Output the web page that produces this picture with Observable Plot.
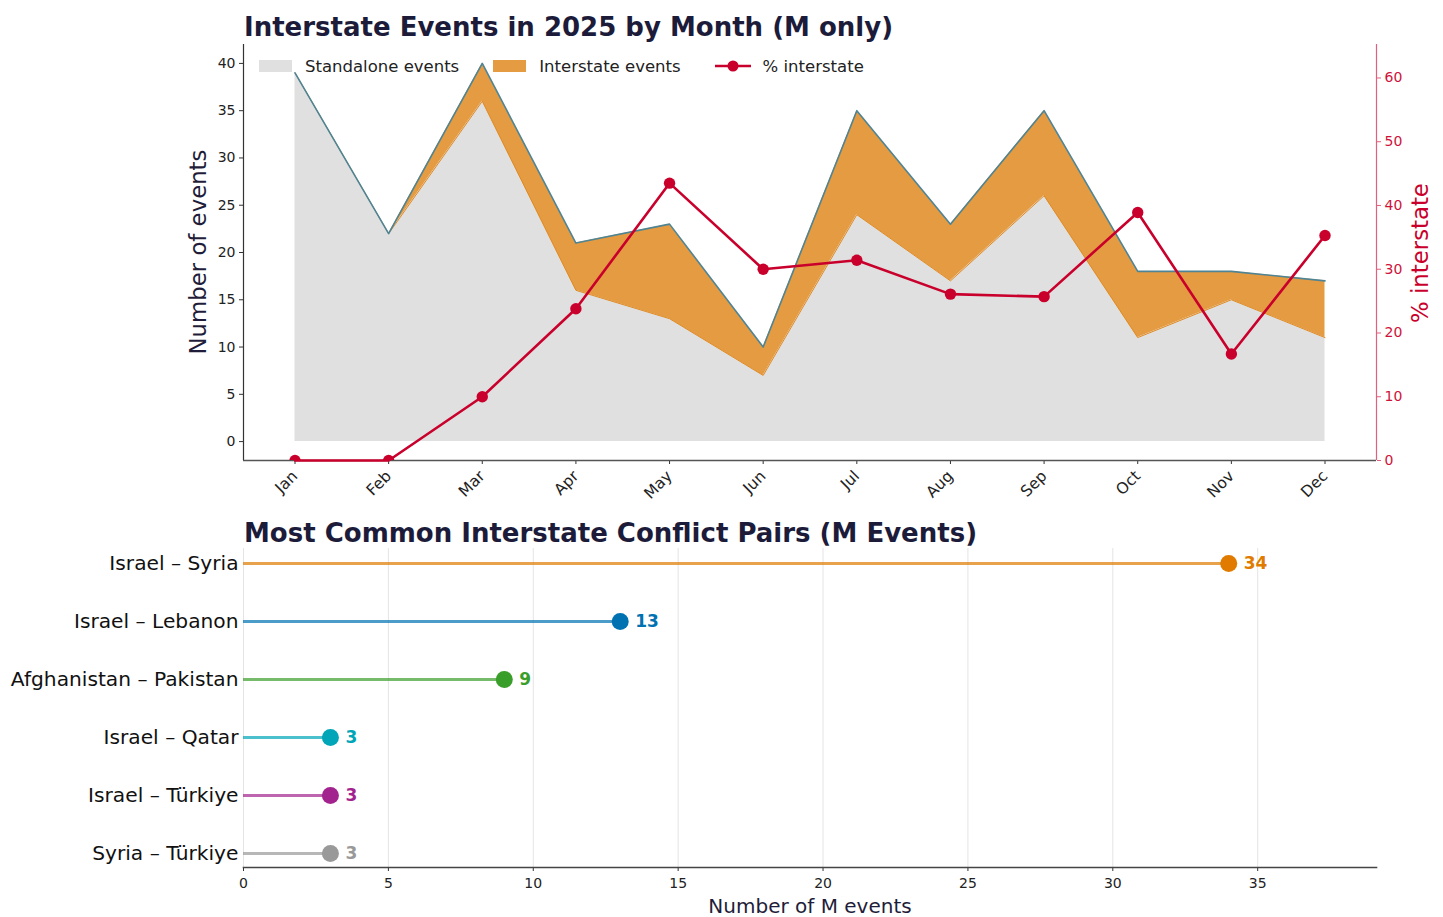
<!DOCTYPE html>
<html>
<head>
<meta charset="utf-8">
<script src="https://cdn.jsdelivr.net/npm/d3@7"></script>
<script src="https://cdn.jsdelivr.net/npm/@observablehq/plot@0.6"></script>
<style>
  html, body { margin: 0; padding: 0; background: #fff; }
  #root { position: relative; width: 1443px; height: 917px; overflow: hidden; font-family: "DejaVu Sans", sans-serif; }
  .layer { position: absolute; left: 0; }
  .title { position: absolute; left: 244px; font-size: 26px; font-weight: bold; color: #1c1c3a; line-height: 1; white-space: nowrap; }
  .axlabel { position: absolute; white-space: nowrap; line-height: 1; transform: translate(-50%, -50%); }
  .legend { position: absolute; top: 57px; left: 259px; display: flex; align-items: center; font-size: 16.5px; color: #222; height: 18px; }
  .sw { display: inline-block; width: 33px; height: 12px; margin-right: 13px; }
  .item { display: flex; align-items: center; margin-right: 34px; white-space: nowrap; }
</style>
</head>
<body>
<div id="root"></div>
<script>
// ---- Data ----
const months = ["Jan","Feb","Mar","Apr","May","Jun","Jul","Aug","Sep","Oct","Nov","Dec"];
const totalEvents = [39, 22, 40, 21, 23, 10, 35, 23, 35, 18, 18, 17];
const standaloneEvents = [39, 22, 36, 16, 13, 7, 24, 17, 26, 11, 15, 11];
const pctInterstate = [0, 0, 10.0, 23.8, 43.5, 30.0, 31.4, 26.1, 25.7, 38.9, 16.7, 35.3];

const pairs = ["Israel – Syria", "Israel – Lebanon", "Afghanistan – Pakistan", "Israel – Qatar", "Israel – Türkiye", "Syria – Türkiye"];
const pairCounts = [34, 13, 9, 3, 3, 3];
const pairColors = ["#e07b00", "#0072b2", "#3a9e2a", "#00a6b8", "#a3238e", "#999999"];

const countTicks = [0, 5, 10, 15, 20, 25, 30, 35, 40];
const pctTicks = [0, 10, 20, 30, 40, 50, 60];
const pairTicks = [0, 5, 10, 15, 20, 25, 30, 35];

// ---- Derived tables ----
const monthly = months.map((m, i) => ({ i, month: m, total: totalEvents[i], standalone: standaloneEvents[i], pct: pctInterstate[i] }));
const pairData = pairs.map((p, i) => ({ pair: p, count: pairCounts[i], color: pairColors[i] }));

const RED = "#c9002c";
const W = 1443;
const xDom = [-0.55, months.length - 1 + 0.55];
const yDom = [-2, 42];
const pDom = [0, d3.max(pctInterstate) * 1.5];
const font = { fontFamily: "DejaVu Sans", fontSize: "14px", color: "#222", background: "transparent", overflow: "visible" };
const topDims = { width: W, height: 510, marginLeft: 243, marginRight: 67, marginTop: 44, marginBottom: 50 };

const root = document.getElementById("root");

// ---- Top chart: areas ----
const top1 = Plot.plot({
  ...topDims,
  style: font,
  x: { domain: xDom },
  y: { domain: yDom },
  marks: [
    Plot.areaY(monthly, { x: "i", y1: 0, y2: "standalone", fill: "#e0e0e0" }),
    Plot.areaY(monthly, { x: "i", y1: "standalone", y2: "total", fill: "#e49b41" }),
    Plot.lineY(monthly, { x: "i", y: "standalone", stroke: "#e08a22", strokeWidth: 1 }),
    Plot.lineY(monthly, { x: "i", y: "total", stroke: "#4f8494", strokeWidth: 1.6 }),
    Plot.axisX({ ticks: d3.range(months.length), tickFormat: i => months[i], tickRotate: -45, tickSize: 4, tickPadding: 9, label: null, stroke: "#333", fill: "#222", fontSize: 15.5 }),
    Plot.axisY({ ticks: countTicks, tickSize: 4, tickPadding: 4, label: null, stroke: "#333", fill: "#222", fontSize: 14 }),
    Plot.ruleX([xDom[0]], { y1: yDom[0], y2: yDom[1], stroke: "#333", strokeWidth: 1.2 }),
    Plot.ruleY([yDom[0]], { x1: xDom[0], x2: xDom[1], stroke: "#555", strokeWidth: 1.6 })
  ]
});
top1.classList.add("layer"); top1.style.top = "0px";
root.appendChild(top1);

// ---- Top chart: % overlay (secondary axis) ----
const top2 = Plot.plot({
  ...topDims,
  style: font,
  x: { domain: xDom, axis: null },
  y: { domain: pDom },
  marks: [
    Plot.lineY(monthly, { x: "i", y: "pct", stroke: RED, strokeWidth: 2.6 }),
    Plot.dot(monthly, { x: "i", y: "pct", r: 5.7, fill: RED, clip: true }),
    Plot.axisY({ anchor: "right", ticks: pctTicks, tickSize: 4, tickPadding: 4, label: null, stroke: "#e0607e", fill: "#cf1238", fontSize: 14 }),
    Plot.ruleX([xDom[1]], { y1: pDom[0], y2: pDom[1], stroke: "#e0607e", strokeWidth: 1.2 })
  ]
});
top2.classList.add("layer"); top2.style.top = "0px";
root.appendChild(top2);

// ---- Bottom chart: lollipops ----
const bot = Plot.plot({
  width: W, height: 397, marginLeft: 243, marginRight: 67, marginTop: 28, marginBottom: 50,
  style: font,
  x: { domain: [0, d3.max(pairCounts) * 1.15] },
  y: { type: "point", domain: pairs, padding: 0.25 },
  color: { type: "identity" },
  marks: [
    Plot.gridX({ ticks: pairTicks, stroke: "#e4e4e4", strokeOpacity: 1 }),
    Plot.ruleY(pairData, { y: "pair", x1: 0, x2: "count", stroke: "color", strokeOpacity: 0.7, strokeWidth: 3.2 }),
    Plot.dot(pairData, { y: "pair", x: "count", r: 8.5, fill: "color" }),
    Plot.text(pairData, { y: "pair", x: "count", text: d => String(d.count), dx: 15, textAnchor: "start", fill: "color", fontWeight: "bold", fontSize: 17 }),
    Plot.axisX({ ticks: pairTicks, tickSize: 4, tickPadding: 7, label: null, stroke: "#333", fill: "#222", fontSize: 14 }),
    Plot.axisY({ tickSize: 0, tickPadding: 5, label: null, fill: "#111", fontSize: 20.2 }),
    Plot.frame({ anchor: "bottom", stroke: "#444", strokeWidth: 1.6 })
  ]
});
bot.classList.add("layer"); bot.style.top = "520px";
root.appendChild(bot);

// ---- Text: titles, axis labels, legend ----
function addDiv(cls, text, css) {
  const d = document.createElement("div");
  d.className = cls; d.textContent = text;
  Object.assign(d.style, css);
  root.appendChild(d);
  return d;
}
addDiv("title", "Interstate Events in 2025 by Month (M only)", { top: "14px" });
addDiv("title", "Most Common Interstate Conflict Pairs (M Events)", { top: "520px" });
addDiv("axlabel", "Number of events", { left: "198px", top: "252px", fontSize: "22.8px", color: "#1f1d3a", transform: "translate(-50%, -50%) rotate(-90deg)" });
addDiv("axlabel", "% interstate", { left: "1420px", top: "253px", fontSize: "22.8px", color: RED, transform: "translate(-50%, -50%) rotate(-90deg)" });
addDiv("axlabel", "Number of M events", { left: "810px", top: "906px", fontSize: "20px", color: "#1f1d3a" });

const legend = document.createElement("div");
legend.className = "legend";
legend.innerHTML = `
  <div class="item"><span class="sw" style="background:#e0e0e0"></span>Standalone events</div>
  <div class="item"><span class="sw" style="background:#e49b41"></span>Interstate events</div>
  <div class="item"><svg width="36" height="14" style="margin-right:12px"><line x1="0" y1="7" x2="36" y2="7" stroke="${RED}" stroke-width="2.6"/><circle cx="18" cy="7" r="5.5" fill="${RED}"/></svg>% interstate</div>`;
root.appendChild(legend);
</script>
</body>
</html>
